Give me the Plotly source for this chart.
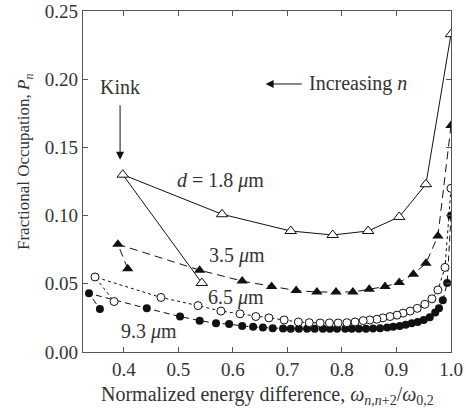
import plotly.graph_objects as go

# d = 1.8 um (open triangles), ordered by increasing n
x18 = [1.000, 0.954, 0.905, 0.848, 0.783, 0.706, 0.580, 0.398, 0.543]
y18 = [0.233, 0.123, 0.099, 0.0887, 0.0858, 0.0887, 0.101, 0.130, 0.0506]

# d = 3.5 um (filled triangles)
x35 = [1.000, 0.976, 0.954, 0.931, 0.905, 0.879, 0.850, 0.820, 0.789, 0.754, 0.716, 0.671, 0.617, 0.539, 0.389, 0.407]
y35 = [0.166, 0.085, 0.065, 0.057, 0.051, 0.048, 0.046, 0.044, 0.044, 0.044, 0.045, 0.048, 0.052, 0.060, 0.079, 0.061]

# d = 6.5 um (open circles)
x65 = [1.000, 0.989, 0.976, 0.965, 0.952, 0.938, 0.925, 0.912, 0.901, 0.888, 0.875, 0.864, 0.851, 0.839,
       0.824, 0.809, 0.793, 0.777, 0.760, 0.740, 0.720, 0.694, 0.666, 0.642, 0.613, 0.578, 0.536, 0.468,
       0.347, 0.382]
y65 = [0.120, 0.062, 0.0455, 0.039, 0.035, 0.032, 0.030, 0.0285, 0.027, 0.026, 0.025, 0.024, 0.0235, 0.023,
       0.022, 0.0215, 0.0213, 0.0213, 0.0213, 0.0215, 0.022, 0.0235, 0.025, 0.026, 0.028, 0.030, 0.034, 0.040,
       0.055, 0.037]

# d = 9.3 um (filled circles)
x93 = [1.000, 0.993, 0.985, 0.978, 0.971, 0.961, 0.950, 0.939, 0.928, 0.917, 0.906, 0.894, 0.883, 0.870,
       0.857, 0.844, 0.831, 0.818, 0.806, 0.791, 0.778, 0.765, 0.750, 0.736, 0.721, 0.706, 0.692, 0.673,
       0.655, 0.637, 0.617, 0.593, 0.569, 0.539, 0.503, 0.442, 0.336, 0.356]
y93 = [0.100, 0.0505, 0.038, 0.032, 0.029, 0.0255, 0.0235, 0.022, 0.021, 0.020, 0.019, 0.0185, 0.018, 0.0175,
       0.0172, 0.017, 0.017, 0.017, 0.017, 0.017, 0.017, 0.017, 0.017, 0.017, 0.017, 0.017, 0.0172, 0.0175,
       0.018, 0.0185, 0.019, 0.0205, 0.021, 0.023, 0.026, 0.032, 0.043, 0.0315]

xticks = [0.4, 0.5, 0.6, 0.7, 0.8, 0.9, 1.0]
xticklabels = ["0.4", "0.5", "0.6", "0.7", "0.8", "0.9", "1.0"]
yticks = [0.00, 0.05, 0.10, 0.15, 0.20, 0.25]
yticklabels = ["0.00", "0.05", "0.10", "0.15", "0.20", "0.25"]

FONT = "Liberation Serif, Times New Roman, DejaVu Serif, serif"
INK = "#111111"
TXT = "#333333"
FS = 20

L, R, T, B = 83, 15, 11, 59
W, H = 466, 411
PW, PH = W - L - R, H - T - B

fig = go.Figure()

fig.add_trace(go.Scatter(x=x93, y=y93, mode="lines+markers",
                         line=dict(color=INK, width=1, dash="6px,4px"),
                         marker=dict(symbol="circle", size=8, color=INK, line=dict(width=0))))
fig.add_trace(go.Scatter(x=x65, y=y65, mode="lines+markers",
                         line=dict(color=INK, width=1, dash="3px,3px"),
                         marker=dict(symbol="circle", size=8, color="white", line=dict(color=INK, width=1))))
fig.add_trace(go.Scatter(x=x35, y=y35, mode="lines+markers",
                         line=dict(color=INK, width=1, dash="8px,5px"),
                         marker=dict(symbol="triangle-up", size=10, color=INK, line=dict(width=0))))
fig.add_trace(go.Scatter(x=x18, y=y18, mode="lines+markers",
                         line=dict(color=INK, width=1),
                         marker=dict(symbol="triangle-up", size=10, color="white", line=dict(color=INK, width=1))))

axis_common = dict(showline=True, linecolor="#555555", linewidth=1.3, mirror="ticks",
                   ticks="inside", ticklen=5, tickwidth=1, tickcolor="#555555",
                   showgrid=False, zeroline=False, automargin=False,
                   tickfont=dict(family=FONT, size=19, color=TXT))

fig.update_xaxes(range=[0.325, 1.0], tickvals=xticks, ticktext=xticklabels, **axis_common)
fig.update_yaxes(range=[0.0, 0.25], tickvals=yticks, ticktext=yticklabels, **axis_common)

anns = [
    dict(x=0.393, y=0.194, text="Kink"),
    dict(x=0.578, y=0.126, text="<i>d</i> = 1.8 <i>μ</i>m"),
    dict(x=0.607, y=0.0704, text="3.5 <i>μ</i>m"),
    dict(x=0.605, y=0.0403, text="6.5 <i>μ</i>m"),
    dict(x=0.446, y=0.0147, text="9.3 <i>μ</i>m"),
    dict(x=0.736, y=0.1965, text="Increasing <i>n</i>", xanchor="left"),
]
for a in anns:
    a.update(xref="x", yref="y", showarrow=False, font=dict(family=FONT, size=FS, color=TXT))
    fig.add_annotation(**a)

# arrows
fig.add_annotation(x=0.393, y=0.141, ax=0.393, ay=0.182, xref="x", yref="y", axref="x", ayref="y",
                   text="", showarrow=True, arrowhead=2, arrowsize=1.6, arrowwidth=1, arrowcolor=INK)
fig.add_annotation(x=0.660, y=0.1965, ax=0.729, ay=0.1965, xref="x", yref="y", axref="x", ayref="y",
                   text="", showarrow=True, arrowhead=2, arrowsize=1.6, arrowwidth=1, arrowcolor=INK)

# axis titles as annotations (paper coords)
fig.add_annotation(x=(25 - L) / PW, y=(H - B - 162) / PH, xref="paper", yref="paper",
                   text="Fractional Occupation, <i>P<sub>n</sub></i>",
                   showarrow=False, textangle=-90, xanchor="center", yanchor="middle",
                   font=dict(family=FONT, size=17, color=TXT))
fig.add_annotation(x=0.5, y=(H - B - 396) / PH, xref="paper", yref="paper",
                   text="Normalized energy difference, <i>ω</i><sub><i>n,n</i>+2</sub>/<i>ω</i><sub>0,2</sub>",
                   showarrow=False, xanchor="center", yanchor="middle",
                   font=dict(family=FONT, size=FS, color=TXT))

fig.update_layout(width=W, height=H, margin=dict(l=L, r=R, t=T, b=B, autoexpand=False),
                  plot_bgcolor="white", paper_bgcolor="white", showlegend=False)

fig.write_html("out.html", config={"displayModeBar": False},
               post_script="document.body.style.margin='0';document.body.style.overflow='hidden';")
